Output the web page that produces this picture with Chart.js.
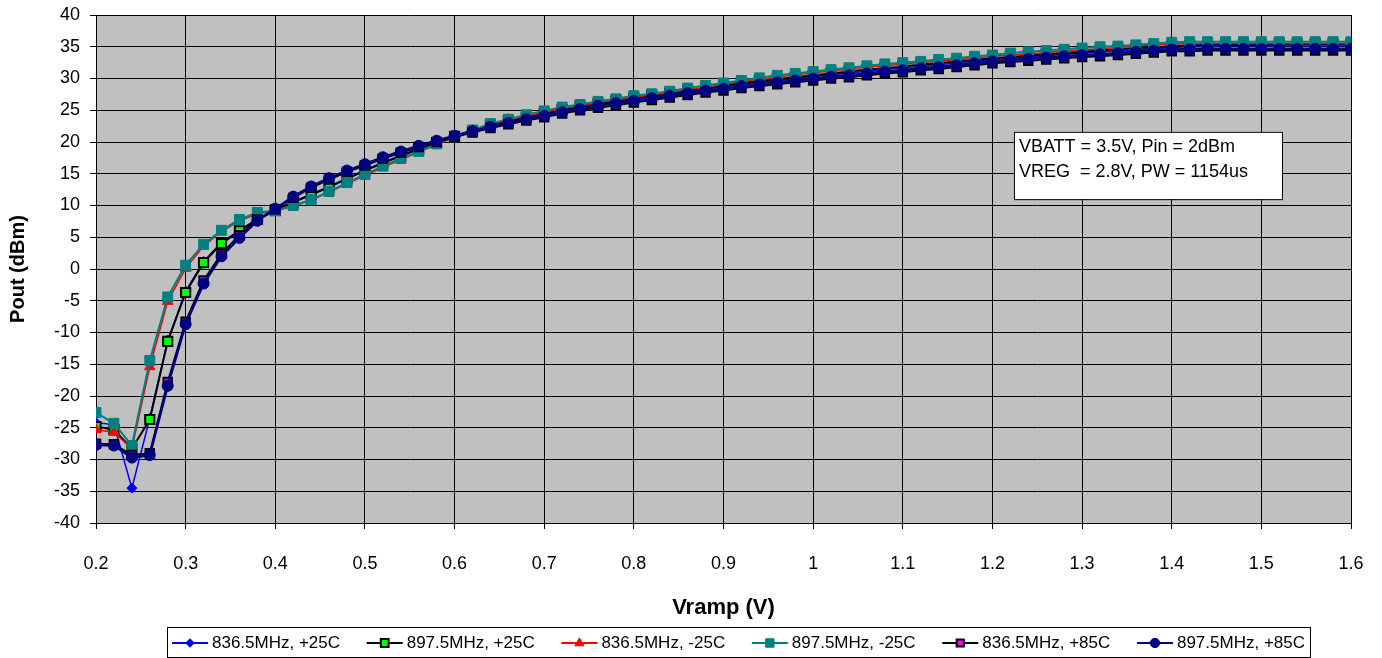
<!DOCTYPE html>
<html><head><meta charset="utf-8">
<script src="https://cdn.jsdelivr.net/npm/chart.js@4.4.0/dist/chart.umd.min.js"></script>
<style>html,body{margin:0;padding:0;background:#fff}#wrap{width:1382px;height:658px}</style>
</head><body><div id="wrap"><canvas id="c" width="1382" height="658"></canvas></div>
<script>
const vramp = [0.2,0.22,0.24,0.26,0.28,0.3,0.32,0.34,0.36,0.38,
 0.4,0.42,0.44,0.46,0.48,0.5,0.52,0.54,0.56,0.58,
 0.6,0.62,0.64,0.66,0.68,0.7,0.72,0.74,0.76,0.78,
 0.8,0.82,0.84,0.86,0.88,0.9,0.92,0.94,0.96,0.98,
 1.0,1.02,1.04,1.06,1.08,1.1,1.12,1.14,1.16,1.18,
 1.2,1.22,1.24,1.26,1.28,1.3,1.32,1.34,1.36,1.38,
 1.4,1.42,1.44,1.46,1.48,1.5,1.52,1.54,1.56,1.58,1.6];

const seriesNames = ['836.5MHz, +25C','897.5MHz, +25C','836.5MHz, -25C','897.5MHz, -25C','836.5MHz, +85C','897.5MHz, +85C'];

const p836_25 = [-24.2,-24.5,-34.5,-23.5,-11.2,-3.5,1.2,4.2,6.1,7.9,
 9.3,10.6,11.8,13.0,14.3,15.6,16.8,17.9,19.0,20.0,
 20.9,21.8,22.6,23.2,23.8,24.3,24.9,25.4,25.9,26.3,
 26.7,27.1,27.5,27.9,28.3,28.7,29.1,29.4,29.7,30.0,
 30.3,30.6,30.9,31.1,31.4,31.7,31.9,32.2,32.4,32.7,
 33.0,33.2,33.4,33.6,33.8,34.0,34.2,34.4,34.5,34.7,
 34.9,35.0,35.0,35.1,35.1,35.1,35.1,35.1,35.1,35.1,35.1];

const p897_25 = [-24.8,-25.3,-28.3,-23.7,-11.4,-3.7,1.0,4.0,6.0,7.8,
 9.2,10.5,11.7,12.9,14.2,15.5,16.7,17.8,18.9,19.9,
 20.9,21.8,22.7,23.3,23.9,24.5,25.1,25.6,26.0,26.5,
 26.9,27.3,27.7,28.1,28.5,28.9,29.3,29.6,29.9,30.2,
 30.5,30.8,31.1,31.4,31.6,31.9,32.2,32.4,32.7,32.9,
 33.2,33.4,33.6,33.8,34.0,34.2,34.4,34.6,34.8,34.9,
 35.1,35.2,35.3,35.3,35.3,35.3,35.4,35.4,35.4,35.4,35.4];

const p836_m25 = [-25.3,-25.7,-28.3,-15.4,-5.1,0.1,3.6,5.9,7.6,8.7,
 9.1,9.9,10.8,12.1,13.4,14.7,16.0,17.2,18.4,19.6,
 20.7,21.8,22.8,23.5,24.1,24.7,25.3,25.7,26.2,26.6,
 27.1,27.4,27.8,28.3,28.6,29.1,29.5,29.9,30.2,30.6,
 30.9,31.2,31.5,31.8,32.0,32.3,32.5,32.7,33.0,33.2,
 33.5,33.7,33.9,34.1,34.3,34.5,34.7,34.9,35.1,35.3,
 35.4,35.5,35.5,35.5,35.5,35.5,35.5,35.5,35.5,35.5,35.5];

const p897_m25 = [-22.6,-24.3,-27.8,-14.4,-4.4,0.6,3.9,6.1,7.8,8.9,
 9.2,10.0,10.9,12.2,13.6,14.9,16.2,17.4,18.5,19.7,
 20.8,21.9,22.9,23.6,24.3,24.9,25.5,25.9,26.4,26.8,
 27.3,27.6,28.0,28.5,28.9,29.3,29.7,30.1,30.5,30.8,
 31.1,31.4,31.7,32.0,32.3,32.5,32.7,33.0,33.2,33.5,
 33.7,34.0,34.2,34.4,34.6,34.8,35.0,35.1,35.3,35.5,
 35.7,35.8,35.8,35.8,35.8,35.8,35.8,35.8,35.8,35.8,35.8];

const p836_85 = [-27.5,-27.6,-29.3,-29.0,-17.8,-8.3,-1.8,2.4,5.3,7.8,
 9.4,11.2,12.8,14.1,15.3,16.3,17.4,18.3,19.2,20.0,
 20.8,21.5,22.2,22.8,23.4,23.9,24.5,25.0,25.4,25.8,
 26.2,26.6,27.0,27.4,27.8,28.1,28.5,28.8,29.1,29.4,
 29.7,30.0,30.2,30.5,30.8,31.0,31.3,31.5,31.8,32.1,
 32.4,32.6,32.8,33.0,33.2,33.4,33.5,33.7,33.9,34.1,
 34.3,34.3,34.4,34.4,34.4,34.4,34.4,34.4,34.4,34.4,34.4];

const p897_85 = [-27.7,-27.8,-29.7,-29.3,-18.4,-8.7,-2.3,2.0,4.9,7.6,
 9.5,11.4,13.0,14.3,15.5,16.5,17.6,18.5,19.4,20.2,
 21.0,21.7,22.4,23.0,23.6,24.1,24.7,25.2,25.7,26.1,
 26.5,26.9,27.3,27.7,28.1,28.4,28.8,29.1,29.4,29.7,
 30.0,30.3,30.5,30.8,31.1,31.3,31.6,31.8,32.1,32.4,
 32.7,32.9,33.1,33.3,33.5,33.7,33.8,34.0,34.2,34.4,
 34.6,34.6,34.7,34.7,34.7,34.7,34.7,34.7,34.7,34.7,34.7];

const xTicks = [0.2,0.3,0.4,0.5,0.6,0.7,0.8,0.9,1.0,1.1,1.2,1.3,1.4,1.5,1.6];
const xTickLabels = ['0.2','0.3','0.4','0.5','0.6','0.7','0.8','0.9','1','1.1','1.2','1.3','1.4','1.5','1.6'];
const yTickLabels = ['-40','-35','-30','-25','-20','-15','-10','-5','0','5','10','15','20','25','30','35','40'];
const noteLines = ['VBATT = 3.5V, Pin = 2dBm','VREG  = 2.8V, PW = 1154us'];

const FONT = "'Liberation Sans', Arial, sans-serif";

const styles = [
  {line:'#0000FF', fill:'#0000FF', border:'#0000FF', shape:'rectRot', r:5, bw:1, lw:1.5},
  {line:'#000000', fill:'#00FF00', border:'#000000', shape:'rect', r:6.5, bw:2, lw:2},
  {line:'#FF0000', fill:'#FF0000', border:'#FF0000', shape:'triangle', r:6, bw:1, lw:1.5},
  {line:'#008080', fill:'#008080', border:'#008080', shape:'rect', r:7, bw:1, lw:2},
  {line:'#000000', fill:'#FF00FF', border:'#000000', shape:'rect', r:6, bw:2, lw:2},
  {line:'#000080', fill:'#000080', border:'#000080', shape:'circle', r:5.5, bw:1, lw:2.5}
];
const allSeries = [p836_25, p897_25, p836_m25, p897_m25, p836_85, p897_85];

const datasets = allSeries.map((arr, i) => ({
  label: seriesNames[i],
  data: arr.map((v, k) => ({x: vramp[k], y: v})),
  borderColor: styles[i].line,
  borderWidth: styles[i].lw,
  backgroundColor: styles[i].fill,
  pointStyle: styles[i].shape,
  pointRadius: styles[i].r,
  pointBackgroundColor: styles[i].fill,
  pointBorderColor: styles[i].border,
  pointBorderWidth: styles[i].bw,
  tension: 0,
  order: 5 - i
}));

function drawMarker(ctx, st, x, y, scale) {
  ctx.save();
  ctx.fillStyle = st.fill; ctx.strokeStyle = st.border; ctx.lineWidth = st.bw;
  ctx.beginPath();
  const r = st.r * scale;
  if (st.shape === 'circle') { ctx.arc(x, y, r, 0, Math.PI*2); }
  else if (st.shape === 'rect') { const s = r*Math.SQRT1_2; ctx.rect(x-s, y-s, 2*s, 2*s); }
  else if (st.shape === 'rectRot') { ctx.moveTo(x, y-r); ctx.lineTo(x+r, y); ctx.lineTo(x, y+r); ctx.lineTo(x-r, y); ctx.closePath(); }
  else if (st.shape === 'triangle') { ctx.moveTo(x, y-r); ctx.lineTo(x+r*0.9, y+r*0.55); ctx.lineTo(x-r*0.9, y+r*0.55); ctx.closePath(); }
  ctx.fill(); ctx.stroke();
  ctx.restore();
}

const bgPlugin = {
  id: 'bg',
  beforeDraw(chart) {
    const {ctx, chartArea:a} = chart;
    ctx.save();
    ctx.fillStyle = '#fff'; ctx.fillRect(0, 0, chart.width, chart.height);
    ctx.fillStyle = '#C0C0C0'; ctx.fillRect(a.left, a.top, a.right-a.left, a.bottom-a.top);
    ctx.restore();
  }
};

const notePlugin = {
  id: 'note',
  afterDatasetsDraw(chart) {
    const {ctx, scales:{x, y}} = chart;
    const L = x.getPixelForValue(1.224), R = x.getPixelForValue(1.523);
    const T = y.getPixelForValue(21.6), B = y.getPixelForValue(11.0);
    ctx.save();
    ctx.fillStyle = '#fff'; ctx.fillRect(L, T, R-L, B-T);
    ctx.strokeStyle = '#000'; ctx.lineWidth = 1; ctx.strokeRect(L+0.5, T+0.5, R-L, B-T);
    ctx.fillStyle = '#000'; ctx.font = '18px ' + FONT; ctx.textBaseline = 'middle'; ctx.textAlign = 'left';
    noteLines.forEach((t, i) => ctx.fillText(t, L + 5, T + 15 + i*25));
    ctx.restore();
  }
};

const legendPlugin = {
  id: 'customLegend',
  afterDraw(chart) {
    const ctx = chart.ctx;
    const boxL = 167, boxR = 1310, boxT = 627, boxB = 657;
    ctx.save();
    ctx.fillStyle = '#fff'; ctx.fillRect(boxL, boxT, boxR-boxL, boxB-boxT);
    ctx.strokeStyle = '#000'; ctx.lineWidth = 1; ctx.strokeRect(boxL+0.5, boxT+0.5, boxR-boxL, boxB-boxT);
    ctx.font = '17px ' + FONT; ctx.textBaseline = 'middle'; ctx.textAlign = 'left';
    const lineLen = 36, gapT = 4;
    const widths = seriesNames.map(n => lineLen + gapT + ctx.measureText(n).width);
    const inner = (boxR - 5) - (boxL + 5);
    const gap = (inner - widths.reduce((a,b)=>a+b,0)) / (seriesNames.length - 1);
    let xx = boxL + 5;
    const cy = (boxT + boxB)/2 + 1;
    seriesNames.forEach((n, i) => {
      const st = styles[i];
      ctx.strokeStyle = st.line; ctx.lineWidth = 2;
      ctx.beginPath(); ctx.moveTo(xx, cy); ctx.lineTo(xx+lineLen, cy); ctx.stroke();
      drawMarker(ctx, st, xx + lineLen/2, cy, 0.85);
      ctx.fillStyle = '#000';
      ctx.fillText(n, xx + lineLen + gapT, cy);
      xx += widths[i] + gap;
    });
    ctx.restore();
  }
};

new Chart(document.getElementById('c'), {
  type: 'line',
  data: { datasets },
  plugins: [bgPlugin, notePlugin, legendPlugin],
  options: {
    responsive: false,
    animation: false,
    devicePixelRatio: 1,
    layout: { padding: { left: 0, top: 15, right: 31, bottom: 35 } },
    plugins: { legend: { display: false }, tooltip: { enabled: false } },
    scales: {
      x: {
        type: 'linear', min: 0.2, max: 1.6,
        afterBuildTicks: (axis) => { axis.ticks = xTicks.map(v => ({value: v})); },
        afterFit: (s) => { s.height = 100; s.paddingLeft = 0; s.paddingRight = 0; },
        ticks: { font: { family: FONT, size: 18 }, color: '#000', padding: 24, maxRotation: 0, autoSkip: false,
                 callback: (v, i) => xTickLabels[i] },
        grid: { color: '#000', lineWidth: 1, tickLength: 6, tickColor: '#000' },
        border: { color: '#000', width: 1 },
        title: { display: true, text: 'Vramp (V)', color: '#000', font: { family: FONT, size: 22, weight: 'bold' }, padding: { top: 0, bottom: 2 } }
      },
      y: {
        min: -40, max: 40,
        afterBuildTicks: (axis) => { axis.ticks = yTickLabels.map(t => ({value: parseFloat(t)})); },
        afterFit: (s) => { s.width = 96; s.paddingTop = 0; s.paddingBottom = 0; },
        ticks: { font: { family: FONT, size: 18 }, color: '#000', padding: 10, autoSkip: false,
                 callback: (v, i) => yTickLabels[i] },
        grid: { color: '#000', lineWidth: 1, tickLength: 6, tickColor: '#000' },
        border: { color: '#000', width: 1 },
        title: { display: true, text: 'Pout (dBm)', color: '#000', font: { family: FONT, size: 20, weight: 'bold' }, padding: { top: 6, bottom: 0 } }
      }
    }
  }
});
</script></body></html>
